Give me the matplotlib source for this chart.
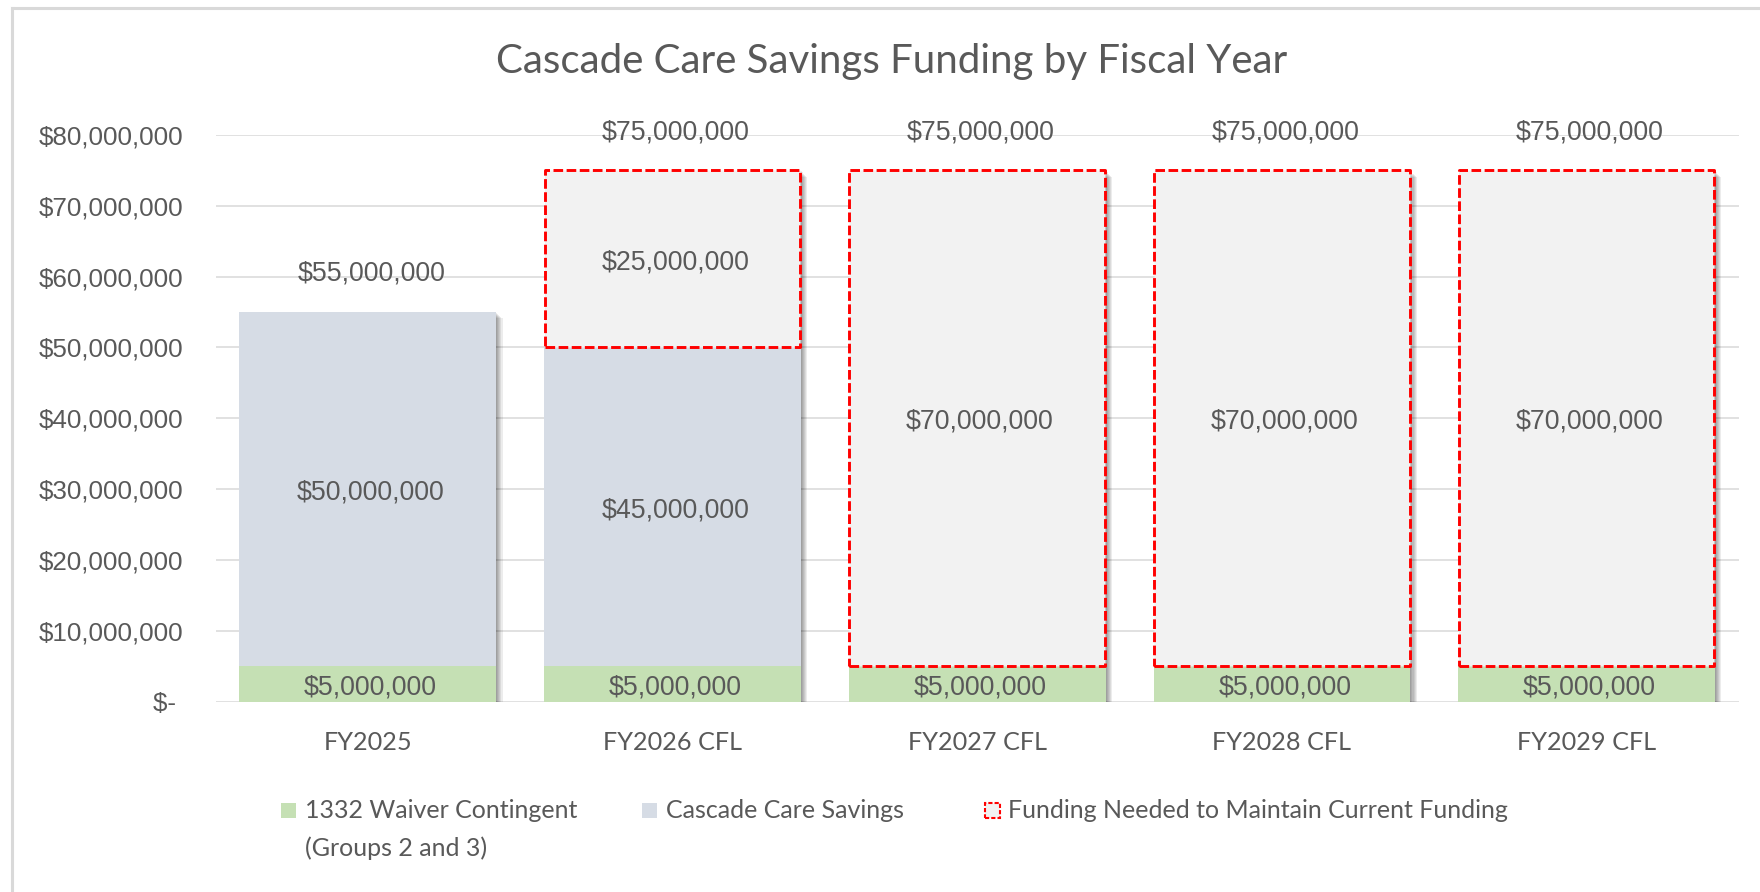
import matplotlib
matplotlib.use("Agg")
import matplotlib.pyplot as plt
import matplotlib.patheffects as pe
from matplotlib.patches import Rectangle
from matplotlib.lines import Line2D
import numpy as np

# ---- data ----
categories = ["FY2025", "FY2026 CFL", "FY2027 CFL", "FY2028 CFL", "FY2029 CFL"]
waiver_contingent = [5_000_000, 5_000_000, 5_000_000, 5_000_000, 5_000_000]
cascade_savings = [50_000_000, 45_000_000, 0, 0, 0]
funding_needed = [0, 25_000_000, 70_000_000, 70_000_000, 70_000_000]
y_ticks = [0, 10_000_000, 20_000_000, 30_000_000, 40_000_000,
           50_000_000, 60_000_000, 70_000_000, 80_000_000]
legend_labels = ["1332 Waiver Contingent\n(Groups 2 and 3)",
                 "Cascade Care Savings",
                 "Funding Needed to Maintain Current Funding"]
title = "Cascade Care Savings Funding by Fiscal Year"

# ---- style ----
TXT = "#595959"
GREEN = "#C5E0B4"
BLUEGRAY = "#D6DCE5"
FILL = "#F2F2F2"
RED = "#FF0000"
GRID = "#D9D9D9"
NUM_FONT = ["Liberation Sans", "DejaVu Sans"]
LBL_FONT = ["Lato", "DejaVu Sans"]

W, H = 1760, 892
fig = plt.figure(figsize=(W / 100, H / 100), dpi=100)
fig.patch.set_facecolor("white")

ax_left, ax_right = 215.5, 1739
ax_top, ax_bottom = 135, 701.5
ax = fig.add_axes([ax_left / W, (H - ax_bottom) / H,
                   (ax_right - ax_left) / W, (ax_bottom - ax_top) / H])

x = np.arange(len(categories))
wv = np.array(waiver_contingent, float)
cs = np.array(cascade_savings, float)
fn = np.array(funding_needed, float)
totals = wv + cs + fn
bw = 0.843

# shadow (drawn only as shadow layers)
shadow_fx = [pe.SimplePatchShadow(offset=(i * 0.75, -i * 0.75),
                                  shadow_rgbFace="black", alpha=0.075)
             for i in range(1, 7)]
ax.bar(x, totals, bw, color="white", zorder=1.5, path_effects=shadow_fx)

ax.bar(x, wv, bw, color=GREEN, zorder=2)
m = cs > 0
ax.bar(x[m], cs[m], bw, bottom=wv[m], color=BLUEGRAY, zorder=2)
m2 = fn > 0
ax.bar(x[m2], fn[m2], bw * 0.995, bottom=(wv + cs)[m2], facecolor=FILL,
       edgecolor=RED, linewidth=2.1, linestyle=(0, (3.3, 1.2)),
       joinstyle="round", zorder=2.2)

LBL_SIZE = 19.3

def lab(xv, yv, v, dx=2.0, dy=-2.5):
    ax.annotate(f"${v:,.0f}", (xv, yv), xytext=(dx, dy),
                textcoords="offset points", ha="center", va="center",
                fontsize=LBL_SIZE, color=TXT, family=NUM_FONT, zorder=5)

for i in range(len(x)):
    lab(x[i], wv[i] / 2, wv[i])
    if cs[i] > 0:
        lab(x[i], wv[i] + cs[i] / 2, cs[i])
    if fn[i] > 0:
        lab(x[i], wv[i] + cs[i] + fn[i] / 2, fn[i])
    lab(x[i], totals[i], totals[i], dx=2.5, dy=27.5)

ax.set_xlim(-0.5, len(x) - 0.5)
ax.set_ylim(0, 80_000_000)
ax.set_yticks(y_ticks)
ax.set_yticklabels([("$- " if v == 0 else f"${v:,.0f}") for v in y_ticks],
                   fontsize=18.7, color=TXT, family=NUM_FONT)
ax.set_xticks(x)
ax.set_xticklabels(categories, fontsize=18.2, color=TXT, family=LBL_FONT)
ax.tick_params(axis="y", length=0, pad=23)
ax.tick_params(axis="x", length=0, pad=21.5)
ax.grid(axis="y", color=GRID, linewidth=1.1, zorder=0)
ax.set_axisbelow(True)
for s in ax.spines.values():
    s.set_visible(False)
ax.set_facecolor("none")

# title
fig.text(892 / W, (H - 62) / H, title,
         ha="center", va="center", fontsize=29, color=TXT, family=LBL_FONT)

# outer border (top + left)
fig.add_artist(Line2D([11.5 / W, 1.0], [(H - 7.5) / H, (H - 7.5) / H],
                      color=GRID, linewidth=2.2, transform=fig.transFigure))
fig.add_artist(Line2D([11.5 / W, 11.5 / W], [0, (H - 7.5) / H],
                      color=GRID, linewidth=2.2, transform=fig.transFigure))

# legend (manual)
row_y = 810.5
row2_y = 848
sq = 15
leg_items = [(288.5, 305, dict(facecolor=GREEN, edgecolor="none")),
             (649, 665.5, dict(facecolor=BLUEGRAY, edgecolor="none")),
             (992, 1008, dict(facecolor=FILL, edgecolor=RED, linewidth=1.5,
                              linestyle=(0, (2.0, 1.0))))]
for (cx, tx, kw), label in zip(leg_items, legend_labels):
    fig.add_artist(Rectangle(((cx - sq / 2) / W, (H - row_y - sq / 2) / H),
                             sq / W, sq / H, transform=fig.transFigure, **kw))
    lines = label.split("\n")
    fig.text(tx / W, (H - row_y) / H, lines[0], ha="left",
             va="center", fontsize=18, color=TXT, family=LBL_FONT)
    if len(lines) > 1:
        fig.text(tx / W, (H - row2_y) / H, lines[1], ha="left",
                 va="center", fontsize=18, color=TXT, family=LBL_FONT)

fig.savefig("out.png", dpi=100, facecolor="white")
